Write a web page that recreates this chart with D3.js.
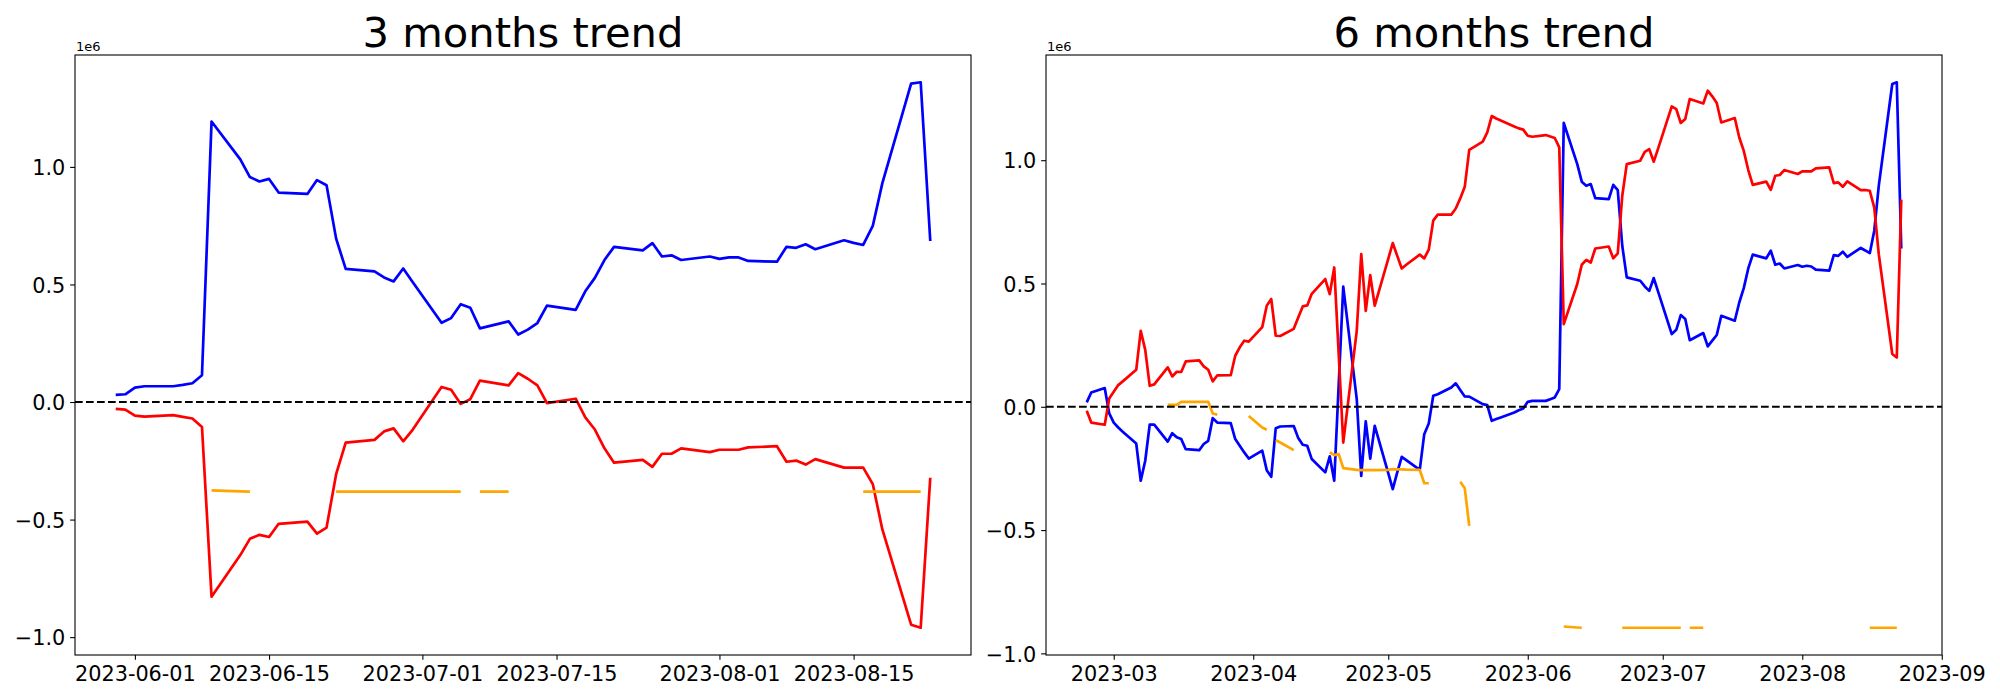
<!DOCTYPE html>
<html>
<head>
<meta charset="utf-8">
<script src="https://cdn.jsdelivr.net/npm/d3@7"></script>
<style>
  html, body { margin: 0; padding: 0; background: #fff; }
  svg { display: block; }
  text { font-family: "DejaVu Sans", sans-serif; fill: #000; }
</style>
</head>
<body>
<svg id="chart" width="2000" height="700"></svg>
<script>
// ---------------- DATA (values in units of 1e6) ----------------
const titles = ["3 months trend", "6 months trend"];

const dates3m = [
  "2023-05-30","2023-05-31",
  "2023-06-01","2023-06-02","2023-06-05","2023-06-06","2023-06-07","2023-06-08","2023-06-09",
  "2023-06-12","2023-06-13","2023-06-14","2023-06-15","2023-06-16","2023-06-19","2023-06-20",
  "2023-06-21","2023-06-22","2023-06-23","2023-06-26","2023-06-27","2023-06-28","2023-06-29","2023-06-30",
  "2023-07-03","2023-07-04","2023-07-05","2023-07-06","2023-07-07","2023-07-10","2023-07-11",
  "2023-07-12","2023-07-13","2023-07-14","2023-07-17","2023-07-18","2023-07-19","2023-07-20",
  "2023-07-21","2023-07-24","2023-07-25","2023-07-26","2023-07-27","2023-07-28","2023-07-31",
  "2023-08-01","2023-08-02","2023-08-03","2023-08-04","2023-08-07","2023-08-08","2023-08-09",
  "2023-08-10","2023-08-11","2023-08-14","2023-08-15","2023-08-16","2023-08-17","2023-08-18",
  "2023-08-21","2023-08-22","2023-08-23"
];
const blue3m = [
  0.030,0.033,
  0.061,0.067,0.067,0.073,0.080,0.114,1.193,1.032,0.957,0.938,0.949,0.891,0.885,0.944,0.922,0.695,0.566,0.556,0.530,0.513,0.568,0.509,
  0.337,0.357,0.416,0.401,0.313,0.343,0.287,0.308,0.336,0.410,0.392,0.471,0.528,0.604,0.660,0.645,0.676,0.619,0.624,0.604,0.619,
  0.609,0.615,0.615,0.600,0.597,0.660,0.656,0.671,0.650,0.688,0.677,0.668,0.749,0.931,1.354,1.360,0.685
];
const red3m = [
  -0.029,-0.032,
  -0.058,-0.062,-0.056,-0.063,-0.070,-0.106,-0.828,-0.651,-0.582,-0.565,-0.574,-0.518,-0.509,-0.560,-0.534,-0.307,-0.173,-0.161,-0.125,-0.112,-0.167,-0.117,
  0.064,0.052,-0.008,0.012,0.091,0.071,0.123,0.099,0.071,-0.005,0.014,-0.065,-0.117,-0.197,-0.258,-0.246,-0.276,-0.220,-0.220,-0.197,-0.213,
  -0.203,-0.203,-0.203,-0.193,-0.188,-0.254,-0.249,-0.266,-0.243,-0.279,-0.279,-0.279,-0.349,-0.542,-0.947,-0.960,-0.322
];
const orange3m = [
  null,null,
  null,null,null,null,null,null,-0.376,-0.380,-0.381,null,null,null,null,null,null,-0.381,-0.381,-0.381,-0.381,-0.381,-0.381,-0.381,
  -0.381,-0.381,-0.381,null,-0.381,-0.381,null,null,null,null,null,null,null,null,null,null,null,null,null,null,null,
  null,null,null,null,null,null,null,null,null,null,null,-0.381,-0.381,-0.381,-0.381,-0.381,null
];

const dates6m = [
  "2023-02-23","2023-02-24","2023-02-27","2023-02-28",
  "2023-03-01","2023-03-02","2023-03-03","2023-03-06","2023-03-07","2023-03-08","2023-03-09","2023-03-10",
  "2023-03-13","2023-03-14","2023-03-15","2023-03-16","2023-03-17","2023-03-20","2023-03-21","2023-03-22",
  "2023-03-23","2023-03-24","2023-03-27","2023-03-28","2023-03-29","2023-03-30","2023-03-31",
  "2023-04-03","2023-04-04","2023-04-05","2023-04-06","2023-04-07","2023-04-10","2023-04-11","2023-04-12",
  "2023-04-13","2023-04-14","2023-04-17","2023-04-18","2023-04-19","2023-04-20","2023-04-21","2023-04-24",
  "2023-04-25","2023-04-26","2023-04-27","2023-04-28",
  "2023-05-01","2023-05-02","2023-05-03","2023-05-04","2023-05-05","2023-05-08","2023-05-09","2023-05-10",
  "2023-05-11","2023-05-12","2023-05-15","2023-05-16","2023-05-17","2023-05-18","2023-05-19","2023-05-22",
  "2023-05-23","2023-05-24","2023-05-25","2023-05-26","2023-05-29","2023-05-30","2023-05-31",
  "2023-06-01","2023-06-02","2023-06-05","2023-06-06","2023-06-07","2023-06-08","2023-06-09",
  "2023-06-12","2023-06-13","2023-06-14","2023-06-15","2023-06-16","2023-06-19","2023-06-20",
  "2023-06-21","2023-06-22","2023-06-23","2023-06-26","2023-06-27","2023-06-28","2023-06-29","2023-06-30",
  "2023-07-03","2023-07-04","2023-07-05","2023-07-06","2023-07-07","2023-07-10","2023-07-11",
  "2023-07-12","2023-07-13","2023-07-14","2023-07-17","2023-07-18","2023-07-19","2023-07-20",
  "2023-07-21","2023-07-24","2023-07-25","2023-07-26","2023-07-27","2023-07-28","2023-07-31",
  "2023-08-01","2023-08-02","2023-08-03","2023-08-04","2023-08-07","2023-08-08","2023-08-09",
  "2023-08-10","2023-08-11","2023-08-14","2023-08-15","2023-08-16","2023-08-17","2023-08-18",
  "2023-08-21","2023-08-22","2023-08-23"
];
const blue6m = [
  0.018,0.058,0.076,-0.027,
  -0.064,-0.084,-0.101,-0.149,-0.300,-0.219,-0.072,-0.072,-0.141,-0.107,-0.124,-0.131,-0.172,-0.176,-0.151,-0.138,-0.046,-0.064,-0.066,-0.131,-0.158,-0.185,-0.210,
  -0.178,-0.257,-0.284,-0.087,-0.080,-0.078,-0.127,-0.154,-0.158,-0.212,-0.266,-0.201,-0.300,0.093,0.487,0.031,-0.280,-0.059,-0.210,-0.077,
  -0.269,-0.334,-0.266,-0.203,-0.216,-0.256,-0.111,-0.068,0.045,0.051,0.078,0.095,0.068,0.042,0.041,0.011,0.007,-0.057,-0.050,-0.043,-0.023,-0.014,-0.007,
  0.020,0.024,0.024,0.031,0.038,0.072,1.151,0.984,0.913,0.896,0.903,0.846,0.842,0.900,0.879,0.653,0.525,0.511,0.488,0.470,0.522,0.465,
  0.295,0.312,0.372,0.356,0.270,0.299,0.245,0.268,0.291,0.369,0.349,0.423,0.481,0.561,0.617,0.602,0.633,0.576,0.581,0.561,0.575,
  0.568,0.572,0.569,0.556,0.552,0.615,0.612,0.629,0.608,0.644,0.634,0.623,0.714,0.896,1.309,1.316,0.642
];
const red6m = [
  -0.016,-0.064,-0.073,0.034,
  0.061,0.088,0.103,0.150,0.308,0.231,0.085,0.091,0.160,0.123,0.142,0.141,0.184,0.188,0.164,0.150,0.103,0.127,0.128,0.207,0.241,0.268,0.264,
  0.323,0.410,0.437,0.288,0.287,0.316,0.362,0.407,0.411,0.458,0.518,0.457,0.565,0.210,-0.145,0.308,0.619,0.389,0.534,0.410,
  0.600,0.664,0.612,0.561,0.576,0.617,0.602,0.637,0.755,0.779,0.779,0.804,0.845,0.892,1.042,1.075,1.113,1.179,1.169,1.161,1.137,1.129,1.124,
  1.099,1.095,1.102,1.096,1.090,1.052,0.335,0.498,0.576,0.596,0.585,0.642,0.650,0.602,0.622,0.856,0.984,0.998,1.034,1.045,0.994,1.049,
  1.218,1.207,1.151,1.167,1.248,1.230,1.282,1.259,1.232,1.153,1.171,1.092,1.038,0.960,0.900,0.913,0.880,0.937,0.940,0.960,0.944,
  0.955,0.955,0.955,0.967,0.971,0.907,0.910,0.892,0.914,0.879,0.879,0.876,0.808,0.619,0.214,0.200,0.840
];
const orange6m = [
  null,null,null,null,
  null,null,null,null,null,null,null,null,0.008,0.008,0.008,0.020,0.020,0.020,0.020,0.020,-0.027,-0.032,null,null,null,null,-0.037,
  -0.084,-0.093,null,-0.135,-0.145,-0.176,null,null,null,null,null,-0.185,-0.196,-0.192,-0.249,-0.256,-0.257,-0.257,-0.257,-0.257,
  -0.256,-0.253,-0.254,-0.254,-0.255,-0.256,-0.310,-0.310,null,null,null,null,-0.304,-0.330,-0.483,null,null,null,null,null,null,null,null,
  null,null,null,null,null,null,-0.891,-0.895,-0.896,null,null,null,null,null,null,-0.896,-0.896,-0.896,-0.896,-0.896,-0.896,-0.896,
  -0.896,-0.896,-0.896,null,-0.896,-0.896,null,null,null,null,null,null,null,null,null,null,null,null,null,null,null,
  null,null,null,null,null,null,null,null,null,null,null,-0.896,-0.896,-0.896,-0.896,-0.896,null
];

const xTicks3m = ["2023-06-01","2023-06-15","2023-07-01","2023-07-15","2023-08-01","2023-08-15"];
const xTicks6m = ["2023-03","2023-04","2023-05","2023-06","2023-07","2023-08","2023-09"];
const yTicks = [-1.0, -0.5, 0.0, 0.5, 1.0];
const offsetLabel = "1e6";

// ---------------- DRAWING ----------------
const svg = d3.select("#chart");
svg.append("rect").attr("width", 2000).attr("height", 700).attr("fill", "#fff");

const parseDay = d3.utcParse("%Y-%m-%d");
const parseMonth = d3.utcParse("%Y-%m");

const panels = [
  { title: titles[0], dates: dates3m, blue: blue3m, red: red3m, orange: orange3m,
    ticks: xTicks3m.map(parseDay), tickLabels: xTicks3m, left: 75, right: 971 },
  { title: titles[1], dates: dates6m, blue: blue6m, red: red6m, orange: orange6m,
    ticks: xTicks6m.map(parseMonth), tickLabels: xTicks6m, left: 1046, right: 1942 }
];
const plotTop = 55, plotBottom = 655;
const tickLen = 4.86, tickPad = 4.86;
const tickFont = 20.8;

function marginDomain(lo, hi) { const m = (hi - lo) * 0.05; return [lo - m, hi + m]; }

panels.forEach((p, pi) => {
  const t = p.dates.map(parseDay);
  const allVals = [...p.blue, ...p.red, ...p.orange].filter(v => v != null);
  const xDom = marginDomain(+t[0], +t[t.length - 1]);
  const yDom = marginDomain(d3.min(allVals), d3.max(allVals));
  const x = d3.scaleUtc().domain([new Date(xDom[0]), new Date(xDom[1])]).range([p.left, p.right]);
  const y = d3.scaleLinear().domain(yDom).range([plotBottom, plotTop]);

  const g = svg.append("g");
  const clipId = "clip" + pi;
  svg.append("clipPath").attr("id", clipId)
    .append("rect").attr("x", p.left).attr("y", plotTop).attr("width", p.right - p.left).attr("height", plotBottom - plotTop);

  const plot = g.append("g").attr("clip-path", `url(#${clipId})`);
  const mk = vals => d3.line()
    .defined(d => d[1] != null)
    .x(d => x(d[0])).y(d => y(d[1]))(t.map((d, i) => [d, vals[i]]));

  [[p.blue, "#0000ff"], [p.red, "#ff0000"], [p.orange, "#ffa500"]].forEach(([vals, col]) => {
    plot.append("path").attr("d", mk(vals)).attr("fill", "none").attr("stroke", col)
      .attr("stroke-width", 2.7).attr("stroke-linejoin", "round").attr("stroke-linecap", "butt");
  });

  // zero reference line
  plot.append("line").attr("x1", p.left).attr("x2", p.right).attr("y1", y(0)).attr("y2", y(0))
    .attr("stroke", "#000").attr("stroke-width", 2.08).attr("stroke-dasharray", "7.7,3.3");

  // axes
  const xAxis = d3.axisBottom(x).tickValues(p.ticks)
    .tickFormat((d, i) => p.tickLabels[i]).tickSize(tickLen).tickPadding(tickPad);
  const gx = g.append("g").attr("transform", `translate(0,${plotBottom})`).call(xAxis);
  gx.select(".domain").remove();
  gx.selectAll(".tick line").attr("stroke", "#000").attr("stroke-width", 1.1);
  gx.selectAll(".tick text").attr("font-size", tickFont).attr("font-family", "DejaVu Sans").attr("fill", "#000").attr("dy", "0.78em");

  const fmt = v => (v < 0 ? "\u2212" : "") + Math.abs(v).toFixed(1);
  const yAxis = d3.axisLeft(y).tickValues(yTicks).tickFormat(fmt).tickSize(tickLen).tickPadding(tickPad);
  const gy = g.append("g").attr("transform", `translate(${p.left},0)`).call(yAxis);
  gy.select(".domain").remove();
  gy.selectAll(".tick line").attr("stroke", "#000").attr("stroke-width", 1.1);
  gy.selectAll(".tick text").attr("font-size", tickFont).attr("font-family", "DejaVu Sans").attr("fill", "#000").attr("dy", "0.37em");

  // frame
  g.append("rect").attr("x", p.left).attr("y", plotTop).attr("width", p.right - p.left).attr("height", plotBottom - plotTop)
    .attr("fill", "none").attr("stroke", "#000").attr("stroke-width", 1.1);

  // offset text and title
  g.append("text").attr("x", p.left + 1).attr("y", 50.7).attr("font-size", 13).text(offsetLabel);
  g.append("text").attr("x", (p.left + p.right) / 2).attr("y", 46.7).attr("text-anchor", "middle")
    .attr("font-size", 41.67).text(p.title);
});
</script>
</body>
</html>
